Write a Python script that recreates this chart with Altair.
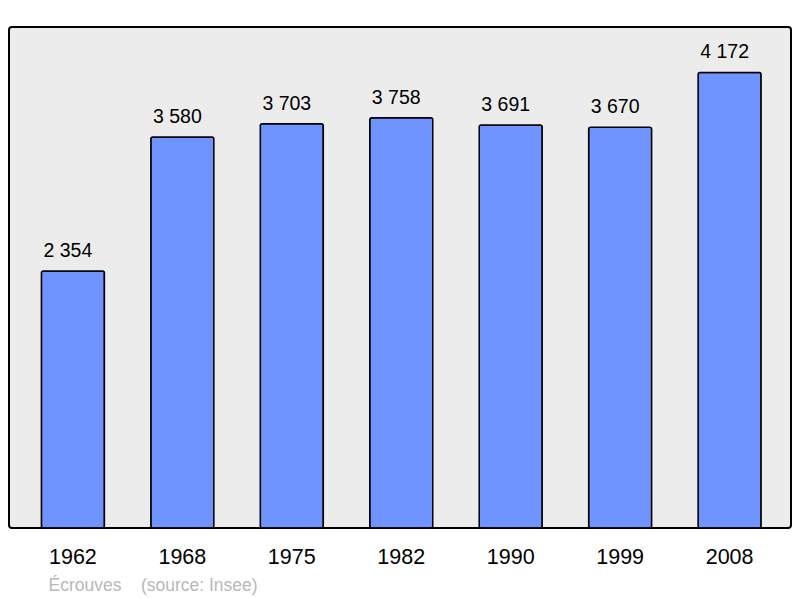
import altair as alt
import pandas as pd

years = ["1962", "1968", "1975", "1982", "1990", "1999", "2008"]
population = [2354, 3580, 3703, 3758, 3691, 3670, 4172]
labels = ["2 354", "3 580", "3 703", "3 758", "3 691", "3 670", "4 172"]

df = pd.DataFrame({"year": years, "pop": population, "label": labels})

FONT = "Liberation Sans"

x = alt.X("year:N", sort=years, title=None,
          scale=alt.Scale(paddingInner=0.4244, paddingOuter=0.2846, align=0.52),
          axis=alt.Axis(labelAngle=0, labelFontSize=21.5, labelColor="#000000",
                        labelFont=FONT, domain=False, ticks=False,
                        labelPadding=18))
y = alt.Y("pop:Q", title=None, scale=alt.Scale(domain=[0, 4588], nice=False, zero=True),
          axis=None)

bars = alt.Chart(df).mark_bar(color="#7094ff", stroke="#000000", strokeWidth=1.5,
                              cornerRadius=2).encode(x=x, y=y)
text = alt.Chart(df).mark_text(fontSize=19.5, font=FONT, color="#000000",
                               baseline="alphabetic", dy=-14, dx=-5).encode(
    x=alt.X("year:N", sort=years), y="pop:Q", text="label:N")

chart = (bars + text).properties(
    width=782, height=501,
    padding={"left": 1, "top": 19, "right": 1, "bottom": 68},
    autosize=alt.AutoSizeParams(type="none"),
    title=alt.TitleParams(
        text="\u00c9crouves\u00a0\u00a0\u00a0 (source: Insee)",
        orient="bottom", anchor="start", dx=39.5, offset=9,
        fontSize=17.5, font=FONT, fontWeight="normal", color="#b8b8b8"),
).configure_view(
    fill="#ececec", stroke="#000000", strokeWidth=2, cornerRadius=3
)

chart.save("out.html", embed_options={"renderer": "svg", "actions": False})
